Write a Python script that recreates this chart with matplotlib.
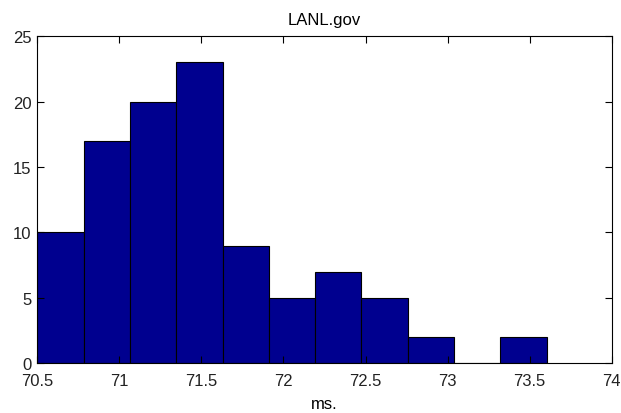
import numpy as np
import matplotlib
matplotlib.use("Agg")
import matplotlib.pyplot as plt

# histogram bins
bin_start = 70.5
bin_width = 0.2822
counts = [10, 17, 20, 23, 9, 5, 7, 5, 2, 0, 2]

x_ticks = [70.5, 71, 71.5, 72, 72.5, 73, 73.5, 74]
y_ticks = [0, 5, 10, 15, 20, 25]

plt.rcParams["font.family"] = ["Liberation Sans", "DejaVu Sans"]
plt.rcParams["font.size"] = 12

fig = plt.figure(figsize=(6.21, 4.14), dpi=100)
ax = fig.add_axes([0.060, 0.120, 0.925, 0.790])

edges = bin_start + bin_width * np.arange(len(counts))
ax.bar(edges, counts, width=bin_width, align="edge",
       color=(0, 0, 0.5625), edgecolor="black", linewidth=0.8)

ax.set_xlim(70.5, 74)
ax.set_ylim(0, 25)
ax.set_xticks(x_ticks)
ax.set_xticklabels([f"{t:g}" for t in x_ticks])
ax.set_yticks(y_ticks)
ax.tick_params(direction="in", length=5, width=0.8, top=True, right=True,
               colors="black", labelcolor="#222")
ax.tick_params(axis="x", pad=7)
ax.tick_params(axis="y", pad=4)
for s in ax.spines.values():
    s.set_linewidth(0.8)

ax.set_title("LANL.gov", fontsize=12, pad=9)
ax.set_xlabel("ms.", fontsize=12, labelpad=6)

fig.savefig("out.png", dpi=100)
